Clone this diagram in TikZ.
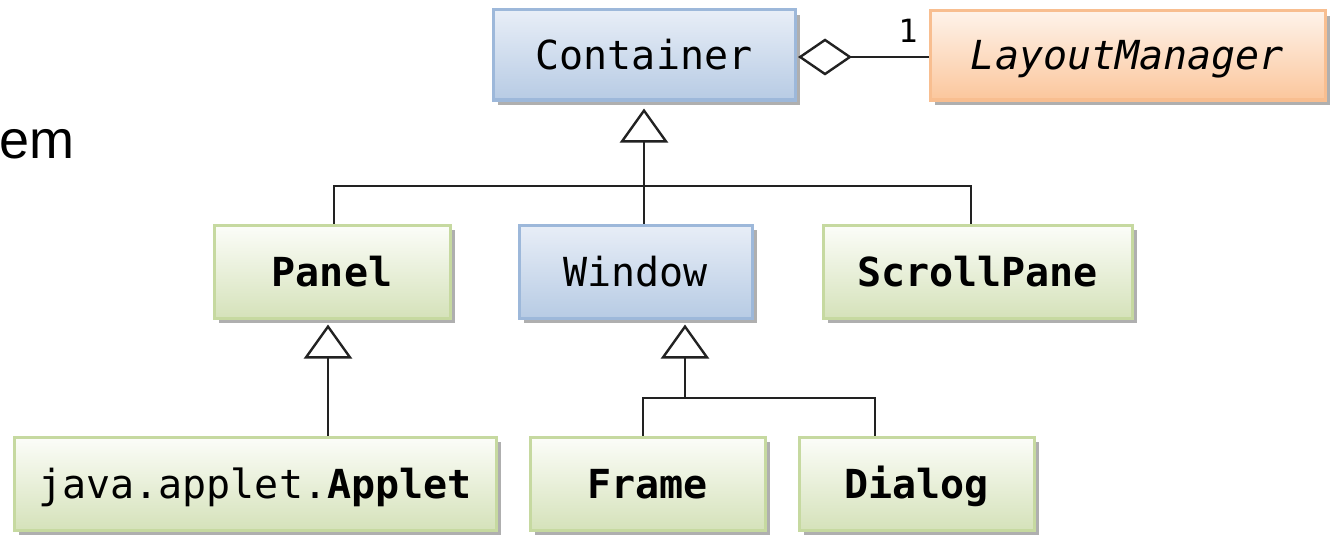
\documentclass[tikz,border=0pt]{standalone}
\usepackage{fontspec}
\setmainfont{Liberation Sans}
\newfontfamily\umlmono{DejaVu Sans Mono}
\usetikzlibrary{arrows.meta,shadows}

\definecolor{blueTop}{HTML}{E8EEF7}
\definecolor{blueBot}{HTML}{B7CBE4}
\definecolor{blueRim}{HTML}{9DB8DA}
\definecolor{greenTop}{HTML}{FCFDF9}
\definecolor{greenBot}{HTML}{D5E2BA}
\definecolor{greenRim}{HTML}{C6D9A0}
\definecolor{orangeTop}{HTML}{FEF3EA}
\definecolor{orangeBot}{HTML}{FBC69C}
\definecolor{orangeRim}{HTML}{F8BE90}
\definecolor{wire}{HTML}{222222}

\tikzset{
  cls/.style={rectangle, inner sep=0pt, line width=3pt, minimum height=93pt,
    font=\umlmono\fontsize{40}{48}\selectfont, text height=29pt, text depth=0pt,
    drop shadow={shadow xshift=5pt, shadow yshift=-5pt, fill=black!42, opacity=0.75}},
  bluecls/.style={cls, draw=blueRim, top color=blueTop, bottom color=blueBot},
  greencls/.style={cls, draw=greenRim, top color=greenTop, bottom color=greenBot},
  orangecls/.style={cls, draw=orangeRim, top color=orangeTop, bottom color=orangeBot},
  wireline/.style={draw=wire, line width=2.4pt},
  inh/.style={wireline, -{Triangle[open, length=34pt, width=48pt, fill=white]}},
  agg/.style={wireline, {Diamond[open, length=54pt, width=37pt, fill=white]}-},
}

\begin{document}
\begin{tikzpicture}[x=1pt, y=-1pt]
  \useasboundingbox (0,0) rectangle (1334,535);

  % caption text at the left edge
  \node[font=\fontsize{54}{60}\selectfont, anchor=base west, inner sep=0pt] (caption) at (-1,158) {em};

  % classes
  \node[bluecls, minimum width=302pt, minimum height=90pt] (container) at (644,55) {Container};
  \node[orangecls, minimum width=395pt, minimum height=89pt] (layout) at (1127.5,55.5) {\itshape LayoutManager};
  \node[greencls, minimum width=236pt] (panel) at (332,271.5) {\bfseries Panel};
  \node[bluecls, minimum width=233pt] (window) at (635.5,271.5) {Window};
  \node[greencls, minimum width=309pt] (scroll) at (977.5,271.5) {\bfseries ScrollPane};
  \node[greencls, minimum width=482pt] (applet) at (255,483.5) {java.applet.\textbf{Applet}};
  \node[greencls, minimum width=235pt] (frame) at (647.5,483.5) {\bfseries Frame};
  \node[greencls, minimum width=235pt] (dialog) at (916.5,483.5) {\bfseries Dialog};

  % aggregation Container <>--1 LayoutManager
  \coordinate (aggStart) at (798,57);
  \draw[agg] (aggStart) -- (layout.west |- aggStart);
  \node[font=\umlmono\fontsize{32}{36}\selectfont, inner sep=0pt] (mult) at (908,31) {1};

  % Container generalisation
  \coordinate (hubA) at (644,186);
  \draw[inh] (window.north -| container.south) -- ([yshift=-7pt]container.south);
  \draw[wireline] ([xshift=2pt]panel.north) |- (hubA) -| ([xshift=-6.5pt]scroll.north);

  % Panel generalisation
  \coordinate (panelTip) at ([xshift=-4pt, yshift=-5pt]panel.south);
  \draw[inh] (applet.north -| panelTip) -- (panelTip);

  % Window generalisation
  \coordinate (windowTip) at ([xshift=49.5pt, yshift=-5pt]window.south);
  \coordinate (hubB) at (685,398);
  \draw[inh] (hubB) -- (windowTip);
  \draw[wireline] ([xshift=-4.5pt]frame.north) |- (hubB) -| ([xshift=-41.5pt]dialog.north);
\end{tikzpicture}
\end{document}
